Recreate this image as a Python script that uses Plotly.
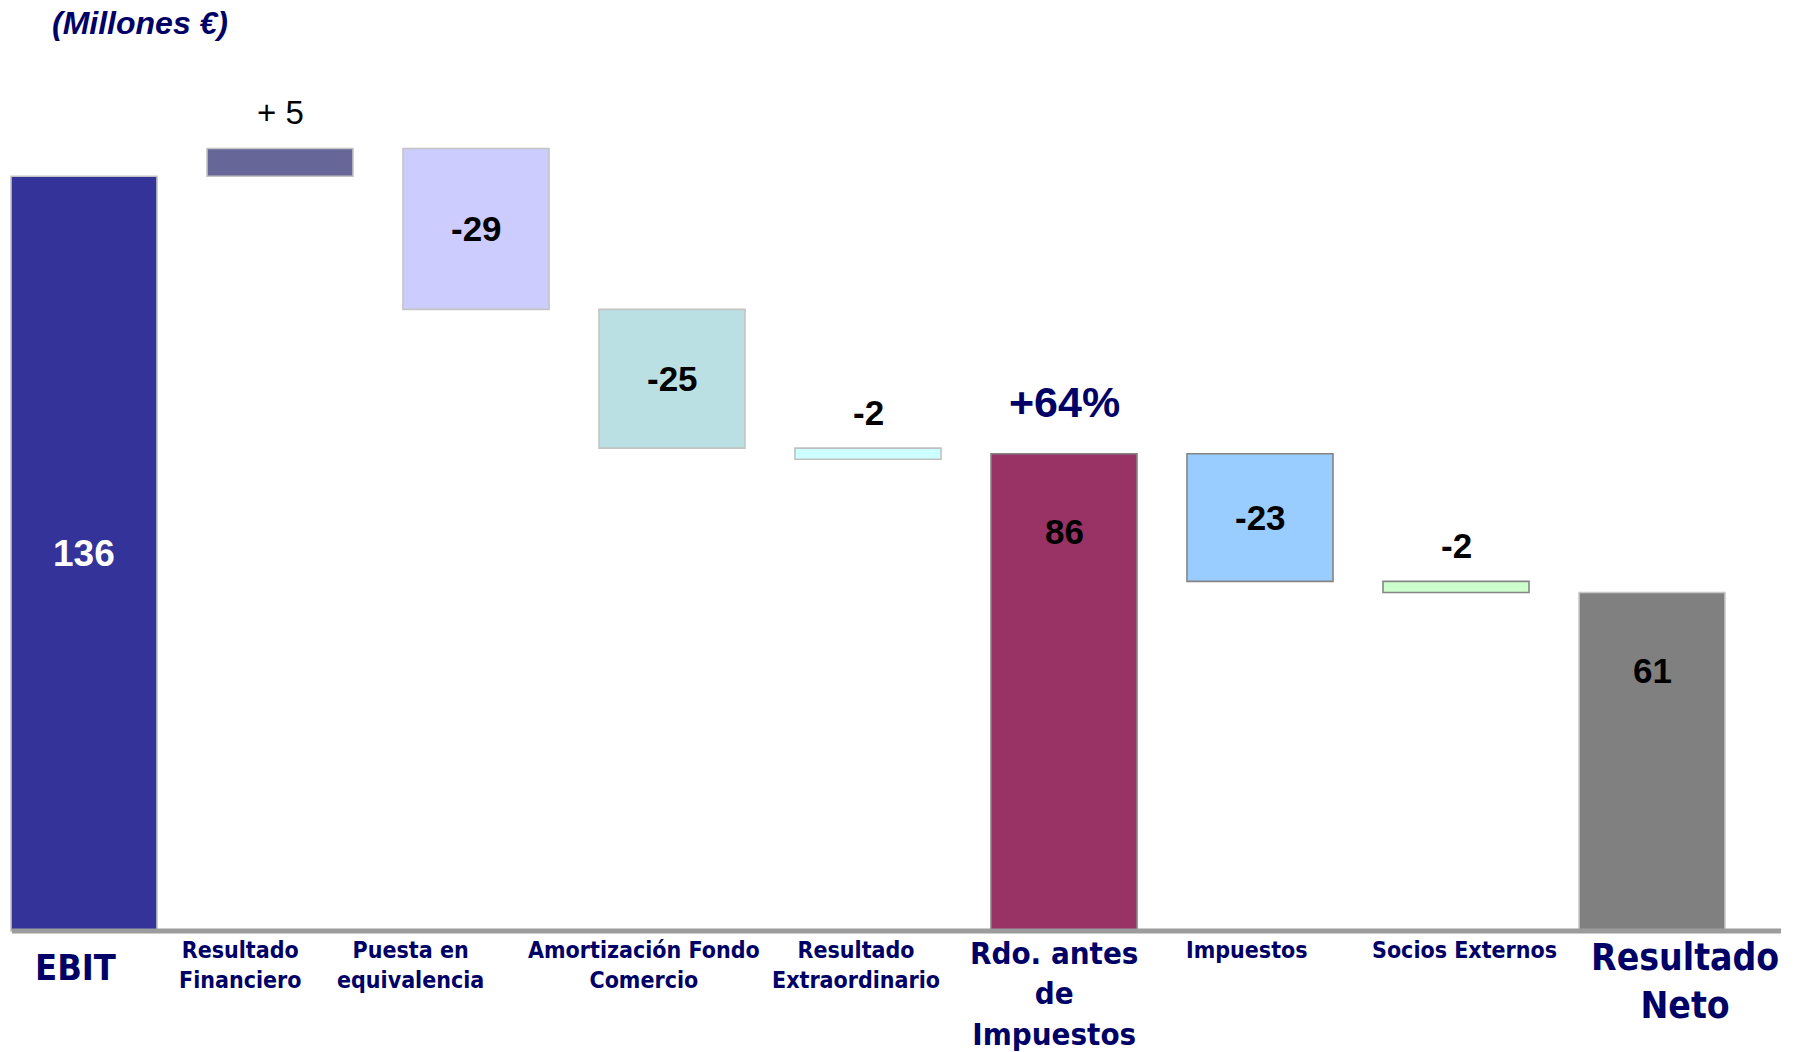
import plotly.graph_objects as go

# ---- data -------------------------------------------------------------
categories = [
    "EBIT", "Resultado Financiero", "Puesta en equivalencia",
    "Amortización Fondo Comercio", "Resultado Extraordinario",
    "Rdo. antes de Impuestos", "Impuestos", "Socios Externos", "Resultado Neto",
]
tick_labels = [
    "EBIT", "Resultado<br>Financiero", "Puesta en<br>equivalencia",
    "Amortización Fondo<br>Comercio", "Resultado<br>Extraordinario",
    "Rdo. antes<br>de<br>Impuestos", "Impuestos", "Socios Externos",
    "Resultado<br>Neto",
]
values = [136, 5, -29, -25, -2, 86, -23, -2, 61]
measures = ["total", "delta", "delta", "delta", "delta",
            "total", "delta", "delta", "total"]
growth_label = "+64%"
units_label = "(Millones €)"

# ---- styling ----------------------------------------------------------
fill_colors = ["#333399", "#666699", "#CCCCFF", "#BBE0E3", "#CCFFFF",
               "#993366", "#99CCFF", "#CCFFCC", "#808080"]
edge_colors = ["#C4C4C4", "#C4C4C4", "#C4C4C4", "#C4C4C4", "#C0C0C0",
               "#858585", "#858585", "#858585", "#C8C8C8"]
value_colors = ["white"] + ["black"] * 8
value_sizes = [37, 33, 35, 35, 35, 35, 35, 35, 35]
# where each value label sits relative to its bar
value_pos = ["mid", "above", "mid", "mid", "above", "top", "mid", "above", "top"]
label_sizes = [36, 23, 23, 23, 23, 31, 23, 23, 37]
label_xshift = [-9, -40, -66, -28, -12, -10, -13, 8, 33]
label_yshift = [-14, -4, -4, -4, -4, -2, -4, -4, -3]

NAVY = "#000066"
LABEL_FONT = "DejaVu Sans Condensed, DejaVu Sans, Verdana, sans-serif"
VALUE_FONT = "Liberation Sans, Arial, sans-serif"

W, H = 1796, 1052
ZERO_PX = 931          # vertical pixel of the baseline
PX_PER_UNIT = 5.55
y_top = ZERO_PX / PX_PER_UNIT
y_bottom = -(H - ZERO_PX) / PX_PER_UNIT
FIRST_SLOT_PX, SLOT_PX = 84, 196   # horizontal category spacing

# ---- waterfall geometry -------------------------------------------------
bases, heights = [], []
running = 0
for v, m in zip(values, measures):
    if m == "total":
        bases.append(0)
        heights.append(v)
        running = v
    else:
        bases.append(running)
        heights.append(v)
        running += v

fig = go.Figure()
fig.add_trace(go.Bar(
    x=categories,
    y=heights,
    base=bases,
    width=0.745,
    marker=dict(color=fill_colors, line=dict(color=edge_colors, width=1.6)),
    hoverinfo="skip",
))

annotations = []

# value labels
for i, (cat, v, b, m) in enumerate(zip(categories, values, bases, measures)):
    lo, hi = min(b, b + v), max(b, b + v)
    if m == "delta":
        txt = f"+ {v}" if v > 0 else f"<b>{v}</b>"
    else:
        txt = f"<b>{v}</b>"
    pos = value_pos[i]
    if pos == "mid":
        y, ysh = (lo + hi) / 2, 0
    elif pos == "above":
        y, ysh = hi, 36
    else:  # near the top of a total bar
        y, ysh = hi, -78
    annotations.append(dict(
        x=cat, y=y, xref="x", yref="y", text=txt, showarrow=False,
        yanchor="middle", xanchor="center", yshift=ysh,
        font=dict(family=VALUE_FONT, size=value_sizes[i], color=value_colors[i]),
    ))

# growth annotation over the pre-tax result
pretax = categories[5]
annotations.append(dict(
    x=pretax, y=values[5], xref="x", yref="y", text=f"<b>{growth_label}</b>",
    showarrow=False, yanchor="middle", xanchor="center", yshift=52,
    font=dict(family=VALUE_FONT, size=43, color=NAVY),
))

# category labels under the baseline
for i, (cat, lab) in enumerate(zip(categories, tick_labels)):
    annotations.append(dict(
        x=cat, y=0, xref="x", yref="y", text=f"<b>{lab}</b>", showarrow=False,
        yanchor="top", xanchor="center", align="center",
        xshift=label_xshift[i], yshift=label_yshift[i],
        font=dict(family=LABEL_FONT, size=label_sizes[i], color=NAVY),
    ))

# units caption
annotations.append(dict(
    x=50 / W, y=1 - 23 / H, xref="paper", yref="paper",
    text=f"<b><i>{units_label}</i></b>", showarrow=False,
    xanchor="left", yanchor="middle",
    font=dict(family=VALUE_FONT, size=32, color=NAVY),
))

fig.update_layout(
    width=W, height=H,
    margin=dict(l=0, r=0, t=0, b=0),
    paper_bgcolor="white", plot_bgcolor="white",
    showlegend=False,
    xaxis=dict(type="category",
               range=[-FIRST_SLOT_PX / SLOT_PX, (W - FIRST_SLOT_PX) / SLOT_PX],
               visible=False, fixedrange=True),
    yaxis=dict(range=[y_bottom, y_top], visible=False, fixedrange=True),
    annotations=annotations,
    shapes=[dict(
        type="line", xref="paper", yref="y",
        x0=12 / W, x1=1781 / W, y0=0, y1=0,
        line=dict(color="#9C9C9C", width=5), layer="above",
    )],
)

fig.write_html("out.html")
